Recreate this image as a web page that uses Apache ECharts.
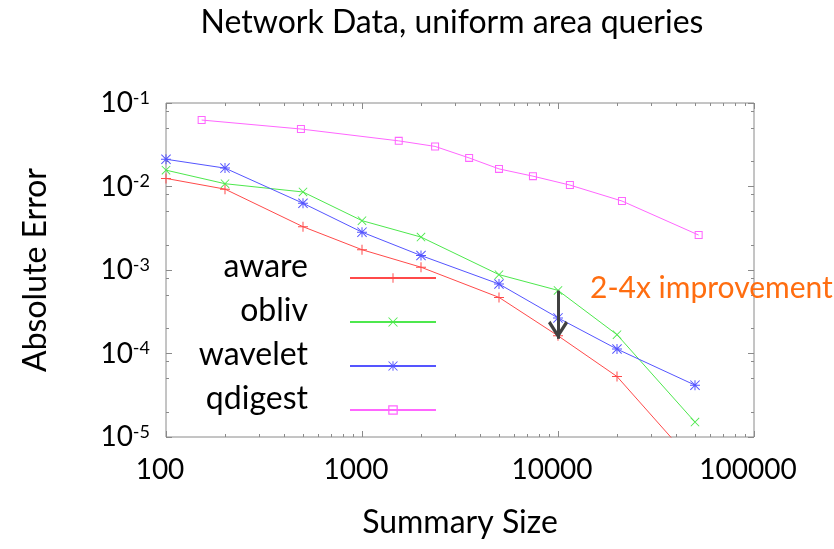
<!DOCTYPE html>
<html>
<head>
<meta charset="utf-8">
<script src="https://cdn.jsdelivr.net/npm/echarts@6/dist/echarts.min.js"></script>
<style>
html,body{margin:0;padding:0;background:#fff;}
#chart{width:834px;height:549px;}
</style>
</head>
<body>
<div id="chart"></div>
<script>
// ---- data ----
const sizes = [100, 200, 500, 1000, 2000, 5000, 10000, 20000, 50000];
const awareErr = [0.0125, 0.0093, 0.0033, 0.00175, 0.00108, 0.00047, 0.000163, 0.000053, 0.0000047];
const oblivErr = [0.0157, 0.0108, 0.0086, 0.0039, 0.00248, 0.00088, 0.00057, 0.000168, 0.0000151];
const waveletErr = [0.0212, 0.0166, 0.0063, 0.00284, 0.00149, 0.00068, 0.000267, 0.000113, 0.0000418];
const qdigestSizes = [152, 488, 1540, 2360, 3520, 5000, 7450, 11500, 21200, 52200];
const qdigestErr = [0.0625, 0.0488, 0.0352, 0.0302, 0.0220, 0.01625, 0.0133, 0.0104, 0.0067, 0.00262];
const seriesNames = ['aware', 'obliv', 'wavelet', 'qdigest'];
const xTickValues = [100, 1000, 10000, 100000];
const yTickValues = [1e-5, 1e-4, 1e-3, 1e-2, 1e-1];
const arrowFrom = [10000, 0.000567];
const arrowTo = [10000, 0.00015];
const titleText = 'Network Data, uniform area queries';
const xName = 'Summary Size';
const yName = 'Absolute Error';
const noteText = '2-4x improvement';

// ---- minor tick positions (2..9 per decade on x, 2,5,8 on y) ----
const xMinor = [];
for (let d = 100; d < 100000; d *= 10) for (let m = 2; m <= 9; m++) xMinor.push(d * m);
const yMinor = [];
for (let e = -5; e < -1; e++) [2, 5, 8].forEach(m => yMinor.push(m * Math.pow(10, e)));

const FONT = 'Lato';
const axisGray = '#8a8a8a';
const colors = { aware: '#ff4a4a', obliv: '#4de84d', wavelet: '#5555ff', qdigest: '#ff66ff' };
const sym = {
  aware: 'path://M4.5,0H5.5V4.5H10V5.5H5.5V10H4.5V5.5H0V4.5H4.5Z',
  obliv: 'path://M0,0.7L0.7,0L10,9.3L9.3,10Z M9.3,0L10,0.7L0.7,10L0,9.3Z',
  wavelet: 'path://M4.5,0H5.5V4.5H10V5.5H5.5V10H4.5V5.5H0V4.5H4.5Z M0,0.7L0.7,0L10,9.3L9.3,10Z M9.3,0L10,0.7L0.7,10L0,9.3Z',
  qdigest: 'path://M0,0H10V10H0Z M1.3,1.3V8.7H8.7V1.3Z'
};
const symSize = { aware: 10, obliv: 9, wavelet: 10, qdigest: 8 };
const chevron = 'path://M10,-15L10.001,-15L10,-15Z M10,0L20,13L17.6,15L10,5L2.4,15L0,13Z';

const gridRect = { left: 166, top: 103, width: 588, height: 334 };

function xAxisDef(grid, pos, ticks, len, extra) {
  return Object.assign({
    type: 'log', logBase: 10, min: 100, max: 100000, gridIndex: grid, position: pos,
    axisLine: { show: false },
    axisTick: { show: true, inside: true, length: len, customValues: ticks, lineStyle: { color: axisGray, width: 1 } },
    axisLabel: { show: false },
    splitLine: { show: false }, minorTick: { show: false }
  }, extra || {});
}
function yAxisDef(grid, pos, ticks, len, extra) {
  return Object.assign({
    type: 'log', logBase: 10, min: 1e-5, max: 1e-1, gridIndex: grid, position: pos,
    axisLine: { show: false },
    axisTick: { show: true, inside: true, length: len, customValues: ticks, lineStyle: { color: axisGray, width: 1 } },
    axisLabel: { show: false },
    splitLine: { show: false }, minorTick: { show: false }
  }, extra || {});
}

const xAxes = [
  xAxisDef(0, 'bottom', xTickValues, 6, {
    axisLabel: { show: true, customValues: xTickValues, formatter: v => String(Math.round(v)), fontSize: 28, fontFamily: FONT, color: '#000', margin: 19, padding: [0, 12, 0, 0] },
    name: xName, nameLocation: 'middle', nameGap: 70,
    nameTextStyle: { fontSize: 32, fontFamily: FONT, color: '#000' }
  }),
  xAxisDef(0, 'top', xTickValues, 6),
  xAxisDef(1, 'bottom', xMinor, 3),
  xAxisDef(1, 'top', xMinor, 3)
];
const yAxes = [
  yAxisDef(0, 'left', yTickValues, 6, {
    axisLabel: {
      show: true, customValues: yTickValues, margin: 16,
      formatter: v => '{b|10}{s|' + Math.round(Math.log10(v)) + '}',
      rich: {
        b: { fontSize: 28, fontFamily: FONT, color: '#000' },
        s: { fontSize: 18, fontFamily: FONT, color: '#000', verticalAlign: 'top', lineHeight: 14 }
      }
    },
    name: yName, nameLocation: 'middle', nameGap: 114, nameRotate: 90,
    nameTextStyle: { fontSize: 32, fontFamily: FONT, color: '#000' }
  }),
  yAxisDef(0, 'right', yTickValues, 6),
  yAxisDef(1, 'left', yMinor, 3),
  yAxisDef(1, 'right', yMinor, 3)
];

function pairs(xs, ys) { return xs.map((x, i) => [x, ys[i]]); }
const seriesData = {
  aware: pairs(sizes, awareErr),
  obliv: pairs(sizes, oblivErr),
  wavelet: pairs(sizes, waveletErr),
  qdigest: pairs(qdigestSizes, qdigestErr)
};

const series = seriesNames.map(n => ({
  name: n, type: 'line', xAxisIndex: 0, yAxisIndex: 0,
  data: seriesData[n], clip: true, smooth: false,
  symbol: sym[n], symbolSize: symSize[n], showSymbol: true,
  lineStyle: { color: colors[n], width: 1 },
  itemStyle: { color: colors[n] },
  emphasis: { disabled: true },
  z: 3
}));
series[1].markLine = {
  silent: true, animation: false,
  symbol: ['none', chevron], symbolSize: [20, 36],
  label: { show: false },
  lineStyle: { color: '#404040', width: 3, type: 'solid' },
  emphasis: { disabled: true },
  data: [[{ coord: arrowFrom }, { coord: arrowTo }]]
};

const chart = echarts.init(document.getElementById('chart'), null, { renderer: 'canvas' });
chart.setOption({
  animation: false,
  backgroundColor: '#fff',
  title: {
    text: titleText, left: 447, top: 2, textAlign: 'center',
    textStyle: { fontSize: 32, fontWeight: 'normal', fontFamily: FONT, color: '#000' }
  },
  grid: [
    Object.assign({ show: true, borderColor: axisGray, borderWidth: 1, backgroundColor: 'transparent' }, gridRect),
    Object.assign({ show: false }, gridRect)
  ],
  xAxis: xAxes,
  yAxis: yAxes,
  legend: {
    orient: 'vertical', right: 397, top: 251, align: 'right',
    itemWidth: 86, itemHeight: 12, itemGap: -10, padding: 0,
    selectedMode: false,
    data: seriesNames,
    formatter: n => '{t|' + n + '}',
    textStyle: { rich: { t: { fontSize: 32, fontFamily: FONT, color: '#000', lineHeight: 20, padding: [0, 37, 22, 0] } } }
  },
  graphic: [{
    type: 'text', left: 590, top: 273, z: 10,
    style: { text: noteText, fontSize: 30, fontFamily: FONT, fill: '#ff6d10' }
  }],
  series: series
});
</script>
</body>
</html>
